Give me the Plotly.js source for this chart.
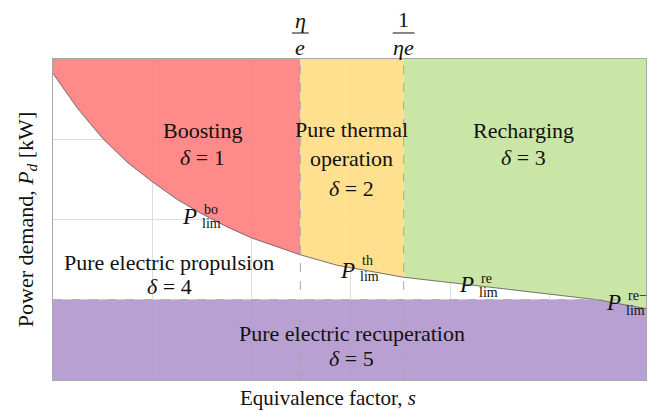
<!DOCTYPE html>
<html>
<head>
<meta charset="utf-8">
<script src="https://cdn.plot.ly/plotly-3.0.1.min.js"></script>
<style>html,body{margin:0;padding:0;background:#fff;}#chart{width:650px;height:411px;}</style>
</head>
<body>
<div id="chart"></div>
<script>
// Limit curve (equivalence factor s vs power demand P_d)
const sCurve = [0, 0.25, 0.5, 0.75, 1.0, 1.25, 1.5, 1.75, 2.0, 2.25, 2.49, 2.86, 3.2, 3.53, 4.10, 4.90, 5.21, 5.48, 5.97];
const pCurve = [3.82, 3.38, 3.01, 2.71, 2.47, 2.25, 2.07, 1.91, 1.77, 1.66, 1.56, 1.43, 1.35, 1.28, 1.20, 1.08, 1.04, 1.00, 0.89];
// Boundaries
const sEtaE = 2.49;      // eta / e
const sInvEtaE = 3.53;   // 1 / (eta e)
const pRecup = 1.0;      // pure electric recuperation limit
const sMax = 5.97;
const pMax = 4.0;
const gridS = [1, 2, 3, 4, 5];
const gridP = [1, 2, 3];
// Region labels
const regionNames = ["Boosting", "Pure thermal<br>operation", "Recharging", "Pure electric propulsion", "Pure electric recuperation"];
const regionDeltas = [1, 2, 3, 4, 5];

const serif = "Liberation Serif";
const colRed = "rgba(255,128,128,0.92)";
const colYellow = "rgba(255,221,132,0.92)";
const colGreen = "rgba(196,228,158,0.92)";
const colPurple = "rgba(179,152,207,0.92)";

function segment(lo, hi) {
  const xs = [], ys = [];
  for (let i = 0; i < sCurve.length; i++) {
    if (sCurve[i] >= lo - 1e-9 && sCurve[i] <= hi + 1e-9) { xs.push(sCurve[i]); ys.push(pCurve[i]); }
  }
  return {xs, ys};
}
function region(lo, hi, color) {
  const seg = segment(lo, hi);
  return {
    x: seg.xs.concat([hi, lo, seg.xs[0]]),
    y: seg.ys.concat([pMax, pMax, seg.ys[0]]),
    type: "scatter", mode: "lines", fill: "toself", fillcolor: color,
    line: {width: 0}, hoverinfo: "skip", showlegend: false
  };
}
const purpleX = [0].concat(sCurve, [sMax, 0]);
const purpleY = [pRecup].concat(pCurve.map(p => Math.min(p, pRecup)), [0, 0]);

const traces = [
  {x: purpleX, y: purpleY, type: "scatter", mode: "lines", fill: "toself", fillcolor: colPurple,
   line: {width: 0}, hoverinfo: "skip", showlegend: false},
  region(0, sEtaE, colRed),
  region(sEtaE, sInvEtaE, colYellow),
  region(sInvEtaE, sMax, colGreen),
  {x: sCurve, y: pCurve, type: "scatter", mode: "lines", line: {color: "rgba(100,90,90,0.85)", width: 1},
   hoverinfo: "skip", showlegend: false},
  {x: [sEtaE, sEtaE], y: [0, pMax], type: "scatter", mode: "lines", line: {color: "#a8a8a8", width: 1, dash: "dash"}, hoverinfo: "skip", showlegend: false},
  {x: [sInvEtaE, sInvEtaE], y: [0, pMax], type: "scatter", mode: "lines", line: {color: "#a8a8a8", width: 1, dash: "dash"}, hoverinfo: "skip", showlegend: false},
  {x: [0, sMax], y: [pRecup, pRecup], type: "scatter", mode: "lines", line: {color: "#a8a8a8", width: 1, dash: "dash"}, hoverinfo: "skip", showlegend: false}
];

const fs = 22;
function txt(x, y, text, size, extra) {
  return Object.assign({x: x, y: y, xref: "x", yref: "y", text: text, showarrow: false,
    font: {family: serif, size: size || fs, color: "#111"}, xanchor: "center", yanchor: "middle"}, extra || {});
}
const L = {xanchor: "left"};
const d = v => "<i>δ</i> = " + v;
const ann = [
  txt(1.51, 3.11, regionNames[0]), txt(1.51, 2.77, d(regionDeltas[0])),
  txt(3.01, 2.94, regionNames[1]), txt(3.01, 2.39, d(regionDeltas[1])),
  txt(4.74, 3.11, regionNames[2]), txt(4.74, 2.77, d(regionDeltas[2])),
  txt(1.17, 1.47, regionNames[3]), txt(1.17, 1.16, d(regionDeltas[3])),
  txt(3.01, 0.58, regionNames[4]), txt(3.01, 0.27, d(regionDeltas[4])),
  // limit labels
  txt(1.37, 2.04, "<i>P</i>", 23), txt(1.50, 2.12, "bo", 14, L), txt(1.48, 1.95, "lim", 14, L),
  txt(2.96, 1.37, "<i>P</i>", 23), txt(3.09, 1.485, "th", 14, L), txt(3.07, 1.29, "lim", 14, L),
  txt(4.16, 1.19, "<i>P</i>", 23), txt(4.29, 1.27, "re", 14, L), txt(4.27, 1.09, "lim", 14, L),
  txt(5.64, 0.96, "<i>P</i>", 23), txt(5.77, 1.05, "re−", 14, L), txt(5.75, 0.87, "lim", 14, L),
  // fraction labels above plot
  {x: sEtaE, y: 1.121, xref: "x", yref: "paper", text: "<i>η</i>", showarrow: false, font: {family: serif, size: 22, color: "#111"}, xanchor: "center", yanchor: "middle"},
  {x: sEtaE, y: 1.037, xref: "x", yref: "paper", text: "<i>e</i>", showarrow: false, font: {family: serif, size: 22, color: "#111"}, xanchor: "center", yanchor: "middle"},
  {x: sInvEtaE, y: 1.124, xref: "x", yref: "paper", text: "1", showarrow: false, font: {family: serif, size: 22, color: "#111"}, xanchor: "center", yanchor: "middle"},
  {x: sInvEtaE, y: 1.037, xref: "x", yref: "paper", text: "<i>ηe</i>", showarrow: false, font: {family: serif, size: 22, color: "#111"}, xanchor: "center", yanchor: "middle"},
  // x axis title (offset left of plot centre, as in the reference)
  {x: 0.464, y: -0.056, xref: "paper", yref: "paper", text: "Equivalence factor, <i>s</i>", showarrow: false,
   font: {family: serif, size: 21, color: "#111"}, xanchor: "center", yanchor: "middle"}
];

const shapes = [
  {type: "line", xref: "x", yref: "paper", x0: sEtaE - 0.085, x1: sEtaE + 0.085, y0: 1.081, y1: 1.081, line: {color: "#111", width: 1}},
  {type: "line", xref: "x", yref: "paper", x0: sInvEtaE - 0.11, x1: sInvEtaE + 0.11, y0: 1.081, y1: 1.081, line: {color: "#111", width: 1}}
];

const layout = {
  width: 650, height: 411,
  margin: {l: 53, r: 4, t: 59, b: 31},
  paper_bgcolor: "#fff", plot_bgcolor: "#fff",
  showlegend: false,
  font: {family: serif},
  xaxis: {range: [0, sMax], tickvals: gridS, showticklabels: false, ticks: "", showgrid: true, gridcolor: "#dedede",
          zeroline: false, showline: true, mirror: true, linecolor: "#a8a8a8", linewidth: 1, fixedrange: true},
  yaxis: {range: [0, pMax], tickvals: gridP, showticklabels: false, ticks: "", showgrid: true, gridcolor: "#dedede",
          zeroline: false, showline: true, mirror: true, linecolor: "#a8a8a8", linewidth: 1, fixedrange: true,
          title: {text: "Power demand, <i>P</i><sub><i>d</i></sub> [kW]", font: {family: serif, size: 22, color: "#111"}, standoff: 12}},
  annotations: ann,
  shapes: shapes
};

Plotly.newPlot("chart", traces, layout, {displayModeBar: false, staticPlot: true});
</script>
</body>
</html>
